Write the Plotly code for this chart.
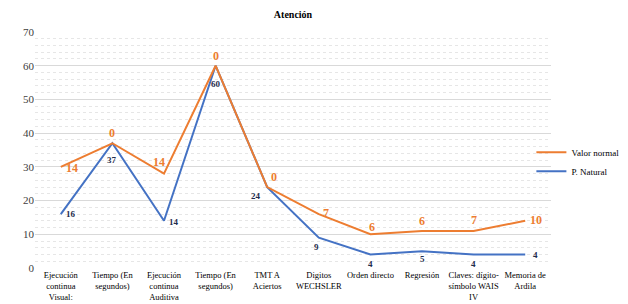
import plotly.graph_objects as go

categories = [
    "Ejecución<br>continua<br>Visual:",
    "Tiempo (En<br>segundos)",
    "Ejecución<br>continua<br>Auditiva",
    "Tiempo (En<br>segundos)",
    "TMT A<br>Aciertos",
    "Digitos<br>WECHSLER",
    "Orden directo",
    "Regresión",
    "Claves: dígito-<br>símbolo WAIS<br>IV",
    "Memoria de<br>Ardila",
]
p_natural = [16, 37, 14, 60, 24, 9, 4, 5, 4, 4]
valor_normal = [14, 0, 14, 0, 0, 7, 6, 6, 7, 10]

SERIF = "Liberation Serif, Times New Roman, serif"
x = list(range(len(categories)))
stacked = [a + b for a, b in zip(p_natural, valor_normal)]

# label offsets in pixels (style, not data)
blue_off = [(10, 0), (0, -17), (10, -1), (0, -18), (-11, -9),
            (-2, -9), (0, -9), (0, -8), (0, -9), (10, 0)]
orange_off = [(11, -1), (0, 10), (-5, 12), (0, 10), (7, 10),
              (7, 1), (2, 7), (0, 10), (0, 11), (11, 1)]

fig = go.Figure()
fig.add_trace(go.Scatter(
    x=x, y=p_natural, name="P. Natural", stackgroup="s", fill="none",
    mode="lines", line=dict(color="#4472C4", width=2),
))
fig.add_trace(go.Scatter(
    x=x, y=valor_normal, name="Valor normal", stackgroup="s", fill="none",
    mode="lines", line=dict(color="#ED7D31", width=2),
))

annotations = []
for i in x:
    annotations.append(dict(
        x=i, y=p_natural[i], text=f"<b>{p_natural[i]}</b>", showarrow=False,
        xshift=blue_off[i][0], yshift=blue_off[i][1],
        font=dict(family=SERIF, size=9, color="#1F2D4D"),
    ))
    annotations.append(dict(
        x=i, y=stacked[i], text=f"<b>{valor_normal[i]}</b>", showarrow=False,
        xshift=orange_off[i][0], yshift=orange_off[i][1],
        font=dict(family=SERIF, size=12, color="#ED7D31"),
    ))

fig.update_layout(
    width=628, height=304,
    margin=dict(l=27, r=85, t=24, b=44, autoexpand=False),
    paper_bgcolor="white", plot_bgcolor="white",
    title=dict(text="<b>Atención</b>", x=0.5, xanchor="center", xref="paper",
               y=0.99, yref="container", yanchor="top",
               font=dict(family=SERIF, size=10, color="#000000")),
    font=dict(family=SERIF, color="#000000"),
    showlegend=True,
    legend=dict(x=0.962, y=0.45, xanchor="left", yanchor="middle", traceorder="reversed",
                bgcolor="rgba(0,0,0,0)",
                font=dict(family=SERIF, size=9, color="#000000"),
                itemwidth=30, tracegroupgap=2),
    annotations=annotations,
)
fig.update_xaxes(
    range=[-0.5, len(categories) - 0.5],
    tickmode="array", tickvals=x, ticktext=categories, tickangle=0,
    tickfont=dict(family=SERIF, size=8.5, color="#000000"),
    showgrid=False, zeroline=False, showline=False, ticks="", automargin=False,
)
fig.update_yaxes(
    range=[0, 70], dtick=10,
    tickfont=dict(family=SERIF, size=11, color="#404040"),
    showgrid=True, gridcolor="#D9D9D9", gridwidth=1,
    minor=dict(dtick=2, showgrid=True, gridcolor="#E6E6E6", griddash="dot", gridwidth=1),
    zeroline=False, showline=False, ticks="", automargin=False,
)

fig.write_html("out.html")
